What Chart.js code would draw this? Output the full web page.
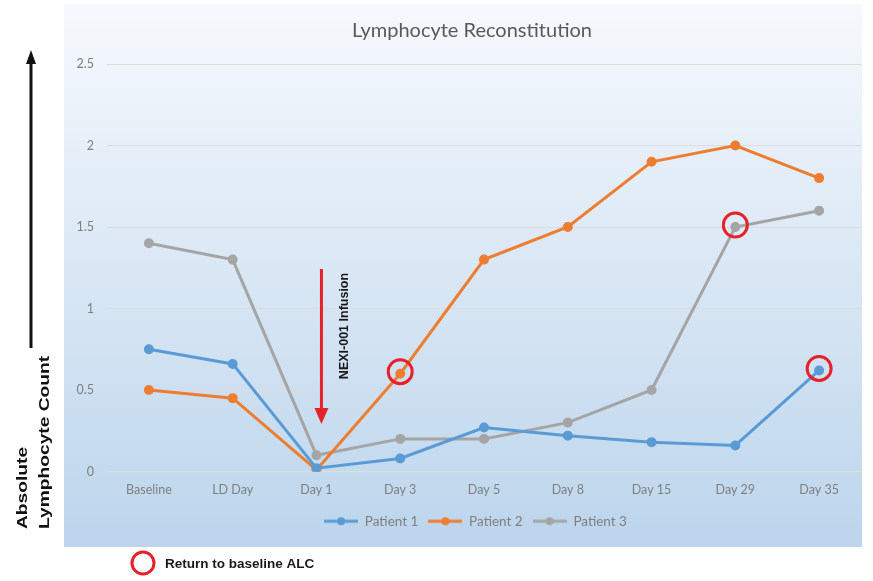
<!DOCTYPE html>
<html>
<head>
<meta charset="utf-8">
<script src="https://cdn.jsdelivr.net/npm/chart.js@4.4.1/dist/chart.umd.min.js"></script>
<style>
  html, body { margin: 0; padding: 0; background: #fff; }
  #wrap { width: 873px; height: 581px; position: relative; }
</style>
</head>
<body>
<div id="wrap"><canvas id="chart"></canvas></div>
<script>
// data
const days = ['Baseline', 'LD Day', 'Day 1', 'Day 3', 'Day 5', 'Day 8', 'Day 15', 'Day 29', 'Day 35'];
const patient1 = [0.75, 0.66, 0.02, 0.08, 0.27, 0.22, 0.18, 0.16, 0.62];
const patient2 = [0.50, 0.45, 0.01, 0.60, 1.30, 1.50, 1.90, 2.00, 1.80];
const patient3 = [1.40, 1.30, 0.10, 0.20, 0.20, 0.30, 0.50, 1.50, 1.60];
const yTicks = [0, 0.5, 1, 1.5, 2, 2.5];
// points that returned to baseline ALC: [dataset index, category index]
const returnPoints = [[1, 3], [2, 7], [0, 8]];

const colors = ['#5b9bd5', '#ed7d31', '#a5a5a5'];
const FONT = 'Lato, "Open Sans", sans-serif';

// little "line with dot" marker for the legend
function legendIcon(color) {
  const c = document.createElement('canvas');
  c.width = 34; c.height = 10;
  const g = c.getContext('2d');
  g.strokeStyle = color; g.lineWidth = 3;
  g.beginPath(); g.moveTo(0, 5); g.lineTo(34, 5); g.stroke();
  g.fillStyle = color;
  g.beginPath(); g.arc(17, 5, 4, 0, Math.PI * 2); g.fill();
  return c;
}

const extras = {
  id: 'extras',
  afterLayout(chart) {
    // legend sits a bit right of centre in the original
    chart.legend.left += 13;
    chart.legend.right += 13;
  },
  beforeDraw(chart) {
    const ctx = chart.ctx;
    // light blue panel behind the chart
    const grad = ctx.createLinearGradient(0, 4, 0, 547);
    grad.addColorStop(0, '#f6f9fd');
    grad.addColorStop(1, '#bcd5ec');
    ctx.save();
    ctx.fillStyle = grad;
    ctx.fillRect(64, 4, 798, 543);
    // title
    ctx.fillStyle = '#595959';
    ctx.font = '20px ' + FONT;
    ctx.textAlign = 'center'; ctx.textBaseline = 'middle';
    ctx.fillText('Lymphocyte Reconstitution', 472, 31);
    ctx.restore();
  },
  afterDatasetsDraw(chart) {
    const ctx = chart.ctx;
    const x = chart.scales.x, y = chart.scales.y;
    ctx.save();
    // red circles
    ctx.strokeStyle = '#e62129';
    ctx.lineWidth = 3;
    returnPoints.forEach(([d, i]) => {
      const v = chart.data.datasets[d].data[i];
      ctx.beginPath();
      ctx.arc(x.getPixelForValue(i), y.getPixelForValue(v) - 2, 12, 0, Math.PI * 2);
      ctx.stroke();
    });
    // infusion arrow
    const ax = x.getPixelForValue(2) + 5;
    ctx.fillStyle = '#e62129';
    ctx.beginPath(); ctx.moveTo(ax, 269); ctx.lineTo(ax, 410); ctx.stroke();
    ctx.beginPath(); ctx.moveTo(ax - 7, 408); ctx.lineTo(ax + 7, 408); ctx.lineTo(ax, 424); ctx.closePath(); ctx.fill();
    ctx.fillStyle = '#1a1a1a';
    ctx.font = 'bold 12.5px "Liberation Sans", Arial, sans-serif';
    ctx.translate(ax + 23, 326);
    ctx.rotate(-Math.PI / 2);
    ctx.textAlign = 'center'; ctx.textBaseline = 'middle';
    ctx.fillText('NEXI-001 Infusion', 0, 0);
    ctx.restore();

    // outer axis label with black arrow
    ctx.save();
    ctx.strokeStyle = '#111'; ctx.fillStyle = '#111'; ctx.lineWidth = 3;
    ctx.beginPath(); ctx.moveTo(31, 62); ctx.lineTo(31, 348); ctx.stroke();
    ctx.beginPath(); ctx.moveTo(26, 64); ctx.lineTo(36, 64); ctx.lineTo(31, 50); ctx.closePath(); ctx.fill();
    ctx.font = 'bold 15px "Liberation Sans", Arial, sans-serif';
    ctx.translate(0, 529);
    ctx.rotate(-Math.PI / 2);
    ctx.scale(1.28, 1);
    ctx.textAlign = 'left'; ctx.textBaseline = 'middle';
    ctx.fillText('Absolute', 0, 23);
    ctx.fillText('Lymphocyte Count', 0, 45);
    ctx.restore();

    // bottom key
    ctx.save();
    ctx.strokeStyle = '#e62129'; ctx.lineWidth = 3;
    ctx.beginPath(); ctx.arc(143, 563, 11, 0, Math.PI * 2); ctx.stroke();
    ctx.fillStyle = '#1a1a1a';
    ctx.font = 'bold 13.5px "Liberation Sans", Arial, sans-serif';
    ctx.textBaseline = 'middle';
    ctx.fillText('Return to baseline ALC', 165, 564);
    ctx.restore();
  }
};

const series = [patient1, patient2, patient3];

new Chart(document.getElementById('chart'), {
  type: 'line',
  data: {
    labels: days,
    datasets: series.map((vals, k) => ({
      label: 'Patient ' + (k + 1),
      data: vals,
      borderColor: colors[k],
      backgroundColor: colors[k],
      borderWidth: 3,
      pointRadius: 3.5,
      pointHoverRadius: 3.5,
      tension: 0,
      fill: false
    }))
  },
  options: {
    responsive: true,
    maintainAspectRatio: false,
    animation: false,
    layout: { padding: { left: 64, right: 12, top: 64, bottom: 43 } },
    plugins: {
      title: { display: false },
      legend: {
        position: 'bottom',
        labels: {
          color: '#7f7f7f',
          font: { family: FONT, size: 13.5 },
          usePointStyle: true,
          pointStyleWidth: 34,
          boxHeight: 10,
          padding: 10,
          generateLabels: chart => chart.data.datasets.map((ds, i) => ({
            text: ds.label,
            fontColor: '#7f7f7f',
            pointStyle: legendIcon(ds.borderColor),
            datasetIndex: i,
            lineWidth: 0,
            hidden: false
          }))
        }
      },
      tooltip: { enabled: false }
    },
    scales: {
      x: {
        offset: true,
        grid: { display: false, drawTicks: false },
        border: { display: false },
        ticks: { color: '#7f7f7f', padding: 11, font: { family: FONT, size: 12.5 } },
        afterFit: s => { s.height = 33; }
      },
      y: {
        min: 0,
        max: 2.5,
        afterBuildTicks: s => { s.ticks = yTicks.map(v => ({ value: v })); },
        ticks: { color: '#7f7f7f', padding: 13, font: { family: FONT, size: 12.5 }, callback: v => String(v) },
        grid: { color: '#dcdcdc', lineWidth: 1, drawTicks: false },
        border: { display: false },
        afterFit: s => { s.width = 43; }
      }
    }
  },
  plugins: [extras]
});
</script>
</body>
</html>
